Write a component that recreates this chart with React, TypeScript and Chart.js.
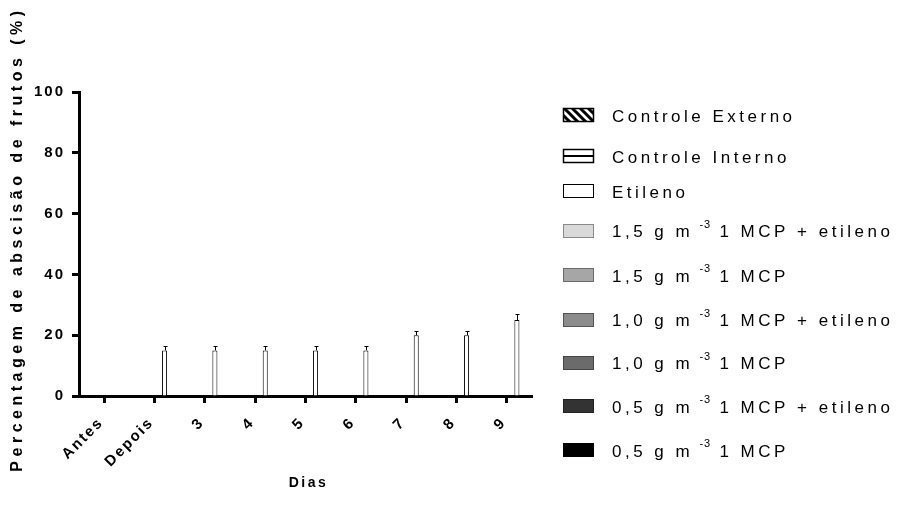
import React, { useEffect, useRef } from 'react';
import { Chart, registerables } from 'chart.js';

Chart.register(...registerables);

const FONT = "'Liberation Sans', Arial, sans-serif";

// Categories (Dias)
const categories = ['Antes', 'Depois', '3', '4', '5', '6', '7', '8', '9'];

// Series values (percent fruit abscission)
const controleExterno = [0, 0, 0, 0, 0, 0, 0, 0, 0];
const controleInterno = [0, 0, 0, 0, 0, 0, 0, 0, 0];
const etileno = [0, 15, 15, 15, 15, 15, 20, 20, 25];
const mcp15Etileno = [0, 0, 0, 0, 0, 0, 0, 0, 0];
const mcp15 = [0, 0, 0, 0, 0, 0, 0, 0, 0];
const mcp10Etileno = [0, 0, 0, 0, 0, 0, 0, 0, 0];
const mcp10 = [0, 0, 0, 0, 0, 0, 0, 0, 0];
const mcp05Etileno = [0, 0, 0, 0, 0, 0, 0, 0, 0];
const mcp05 = [0, 0, 0, 0, 0, 0, 0, 0, 0];

// Error (SE) for Etileno
const etilenoErr = [0, 1.5, 1.5, 1.5, 1.5, 1.5, 1.5, 1.5, 2];

// Y ticks
const yTicks = [0, 20, 40, 60, 80, 100];

// Legend label parts: [before superscript, superscript, after]
const seriesLabels: string[][] = [
  ['Controle Externo', '', ''],
  ['Controle Interno', '', ''],
  ['Etileno', '', ''],
  ['1,5 g m ', '-3', ' 1 MCP + etileno'],
  ['1,5 g m ', '-3', ' 1 MCP'],
  ['1,0 g m ', '-3', ' 1 MCP + etileno'],
  ['1,0 g m ', '-3', ' 1 MCP'],
  ['0,5 g m ', '-3', ' 1 MCP + etileno'],
  ['0,5 g m ', '-3', ' 1 MCP'],
];

const seriesData = [
  controleExterno,
  controleInterno,
  etileno,
  mcp15Etileno,
  mcp15,
  mcp10Etileno,
  mcp10,
  mcp05Etileno,
  mcp05,
];

const seriesFill = ['hatch', 'lines', '#ffffff', '#d9d9d9', '#a6a6a6', '#8c8c8c', '#6b6b6b', '#333333', '#000000'];
const seriesBorder = ['#000000', '#000000', '#000000', '#8a8a8a', '#6a6a6a', '#555555', '#444444', '#222222', '#000000'];

const titleY = 'Percentagem de abscisão de frutos (%)';
const titleX = 'Dias';

function makeHatch(ctx: CanvasRenderingContext2D): CanvasPattern | string {
  const c = document.createElement('canvas');
  c.width = 8;
  c.height = 8;
  const p = c.getContext('2d');
  if (!p) return '#000';
  p.fillStyle = '#fff';
  p.fillRect(0, 0, 8, 8);
  p.strokeStyle = '#000';
  p.lineWidth = 3;
  p.beginPath();
  p.moveTo(0, 0);
  p.lineTo(8, 8);
  p.moveTo(-4, 4);
  p.lineTo(4, 12);
  p.moveTo(4, -4);
  p.lineTo(12, 4);
  p.stroke();
  return ctx.createPattern(c, 'repeat') || '#000';
}

const legendRowY = [115, 156, 191, 230.5, 275, 319.5, 362.5, 406, 450];
const TICK_SPACING = '2px';
const LEGEND_SPACING = '3.5px';

const customPlugin = {
  id: 'custom',
  beforeUpdate(chart: any) {
    chart.ctx.letterSpacing = TICK_SPACING;
  },
  beforeDraw(chart: any) {
    const ctx = chart.ctx;
    ctx.save();
    ctx.fillStyle = '#fff';
    ctx.fillRect(0, 0, chart.width, chart.height);
    ctx.restore();
    ctx.letterSpacing = TICK_SPACING;
  },
  afterDatasetsDraw(chart: any) {
    const ctx: CanvasRenderingContext2D = chart.ctx;
    const idx = chart.data.datasets.findIndex((d: any) => d.label === 'Etileno');
    const meta = chart.getDatasetMeta(idx);
    const yScale = chart.scales.y;
    ctx.save();
    ctx.strokeStyle = '#000';
    ctx.lineWidth = 1;
    meta.data.forEach((bar: any, i: number) => {
      const err = etilenoErr[i];
      if (!err) return;
      const v = etileno[i];
      const yTop = Math.round(yScale.getPixelForValue(v + err)) + 0.5;
      const yBar = yScale.getPixelForValue(v);
      const x = Math.round(bar.x) + 0.5;
      const half = 2;
      ctx.beginPath();
      ctx.moveTo(x, yBar);
      ctx.lineTo(x, yTop);
      ctx.moveTo(x - half, yTop);
      ctx.lineTo(x + half, yTop);
      ctx.stroke();
    });
    ctx.restore();
  },
  afterDraw(chart: any) {
    const ctx: CanvasRenderingContext2D = chart.ctx;
    const area = chart.chartArea;
    ctx.save();
    ctx.fillStyle = '#000';

    // Y title
    ctx.save();
    ctx.translate(18, 239);
    ctx.rotate(-Math.PI / 2);
    ctx.font = `bold 16px ${FONT}`;
    (ctx as any).letterSpacing = '4.5px';
    ctx.textAlign = 'center';
    ctx.textBaseline = 'middle';
    ctx.fillText(titleY, 0, 0);
    ctx.restore();

    // X title
    ctx.font = `bold 14px ${FONT}`;
    (ctx as any).letterSpacing = '2.5px';
    ctx.textAlign = 'center';
    ctx.textBaseline = 'middle';
    ctx.fillText(titleX, (area.left + area.right) / 2 + 3, 483);

    // Legend
    const boxX = 563;
    const boxW = 31;
    const boxH = 14;
    const textX = 612;
    seriesLabels.forEach((parts, i) => {
      const cy = legendRowY[i];
      const top = Math.round(cy - boxH / 2);
      const fill = seriesFill[i];
      ctx.save();
      if (fill === 'hatch') {
        ctx.fillStyle = makeHatch(ctx) as any;
        ctx.fillRect(boxX, top, boxW, boxH);
        ctx.strokeStyle = '#000';
        ctx.lineWidth = 1.5;
        ctx.strokeRect(boxX + 0.5, top + 0.5, boxW - 1, boxH - 1);
      } else if (fill === 'lines') {
        ctx.fillStyle = '#fff';
        ctx.fillRect(boxX, top, boxW, boxH);
        ctx.strokeStyle = '#000';
        ctx.lineWidth = 1.5;
        ctx.strokeRect(boxX + 0.5, top + 0.5, boxW - 1, boxH - 1);
        ctx.lineWidth = 2;
        ctx.beginPath();
        ctx.moveTo(boxX, top + boxH / 2);
        ctx.lineTo(boxX + boxW, top + boxH / 2);
        ctx.stroke();
      } else {
        ctx.fillStyle = fill;
        ctx.fillRect(boxX, top, boxW, boxH);
        ctx.strokeStyle = seriesBorder[i];
        ctx.lineWidth = 1;
        ctx.strokeRect(boxX + 0.5, top + 0.5, boxW - 1, boxH - 1);
      }
      ctx.restore();

      ctx.fillStyle = '#000';
      ctx.textAlign = 'left';
      ctx.textBaseline = 'middle';
      (ctx as any).letterSpacing = LEGEND_SPACING;
      ctx.font = `17px ${FONT}`;
      let x = textX;
      const ty = cy + 2;
      ctx.fillText(parts[0], x, ty);
      x += ctx.measureText(parts[0]).width;
      if (parts[1]) {
        ctx.font = `11px ${FONT}`;
        (ctx as any).letterSpacing = '1px';
        ctx.fillText(parts[1], x - 2, ty - 8);
        x += ctx.measureText(parts[1]).width - 2;
        ctx.font = `17px ${FONT}`;
        (ctx as any).letterSpacing = LEGEND_SPACING;
        ctx.fillText(parts[2], x, ty);
      }
    });

    ctx.restore();
    (ctx as any).letterSpacing = TICK_SPACING;
  },
};

export default function App() {
  const ref = useRef<HTMLCanvasElement>(null);
  useEffect(() => {
    const canvas = ref.current;
    if (!canvas) return;
    const ctx = canvas.getContext('2d');
    if (!ctx) return;

    // Bars are drawn in reverse order within each group (rightmost = first series)
    const order = seriesLabels.map((_, i) => i).reverse();
    const datasets = order.map((i) => {
      const name = seriesLabels[i].join('');
      const fill = seriesFill[i];
      const bg = fill === 'hatch' ? makeHatch(ctx) : fill === 'lines' ? '#ffffff' : fill;
      return {
        label: name,
        data: seriesData[i],
        backgroundColor: bg as any,
        borderColor: seriesBorder[i],
        borderWidth: seriesData[i].some((v) => v > 0) ? 1 : 0,
        borderSkipped: 'start' as const,
        categoryPercentage: 0.9,
        barPercentage: 1.0,
      };
    });

    const chart = new Chart(canvas, {
      type: 'bar',
      data: { labels: categories, datasets },
      options: {
        responsive: false,
        animation: false,
        layout: { padding: { left: 0, top: 92, right: 366, bottom: 0 } },
        plugins: {
          legend: { display: false },
          tooltip: { enabled: false },
          title: { display: false },
        },
        scales: {
          x: {
            offset: true,
            grid: {
              display: true,
              drawOnChartArea: false,
              drawTicks: true,
              tickLength: 7,
              tickWidth: 3,
              tickColor: '#000',
              offset: false,
            },
            border: { display: true, color: '#000', width: 3 },
            ticks: {
              color: '#000',
              font: { family: FONT, size: 15, weight: 'bold' },
              minRotation: 45,
              maxRotation: 45,
              autoSkip: false,
              padding: 11,
              labelOffset: -3,
            },
            afterFit: (s: any) => {
              s.height = 124;
            },
          },
          y: {
            min: 0,
            max: 100,
            afterBuildTicks: (s: any) => {
              s.ticks = yTicks.map((v) => ({ value: v }));
            },
            grid: {
              display: true,
              drawOnChartArea: false,
              drawTicks: true,
              tickLength: 7,
              tickWidth: 3,
              tickColor: '#000',
            },
            border: { display: true, color: '#000', width: 3 },
            ticks: {
              color: '#000',
              font: { family: FONT, size: 15, weight: 'bold' },
              padding: 7,
            },
            afterFit: (s: any) => {
              s.width = 79;
            },
          },
        },
      },
      plugins: [customPlugin],
    });
    return () => chart.destroy();
  }, []);

  return (
    <div style={{ position: 'fixed', left: 0, top: 0, width: 898, height: 520, background: '#fff' }}>
      <canvas ref={ref} width={898} height={520} style={{ display: 'block' }} />
    </div>
  );
}
